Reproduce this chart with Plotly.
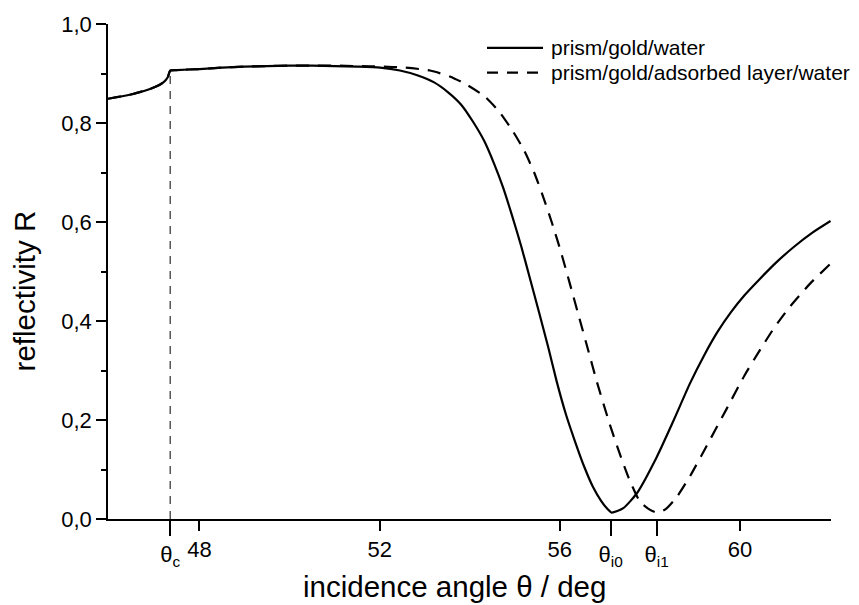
import plotly.graph_objects as go

# ---- data ----
theta_water = [45.97, 46.5, 47.0, 47.2, 47.3, 47.35, 47.5, 48.0, 48.5, 49.0, 49.5, 50.0,
               50.5, 51.0, 51.5, 52.01, 52.45, 52.85, 53.21, 53.52, 53.81, 54.07, 54.32,
               54.54, 54.74, 54.94, 55.14, 55.34, 55.54, 55.74, 55.93, 56.14, 56.34,
               56.54, 56.74, 56.92, 57.05, 57.15, 57.41, 57.71, 58.15, 58.52, 58.89,
               59.2, 59.5, 59.8, 60.1, 60.44, 60.8, 61.2, 61.6, 62.01]
R_water = [0.849, 0.858, 0.872, 0.882, 0.893, 0.906, 0.907, 0.909, 0.912, 0.914, 0.915, 0.916,
           0.916, 0.915, 0.914, 0.912, 0.906, 0.896, 0.882, 0.862, 0.837, 0.803, 0.764,
           0.718, 0.670, 0.613, 0.552, 0.485, 0.417, 0.348, 0.278, 0.210, 0.156,
           0.106, 0.064, 0.036, 0.021, 0.013, 0.022, 0.052, 0.125, 0.198, 0.274,
           0.330, 0.378, 0.418, 0.452, 0.485, 0.518, 0.550, 0.578, 0.602]

theta_layer = [45.97, 46.5, 47.0, 47.2, 47.3, 47.35, 47.5, 48.0, 48.5, 49.0, 49.5, 50.0,
               50.5, 51.0, 51.5, 52.01, 52.56, 53.12, 53.56, 53.96, 54.34, 54.67, 54.96,
               55.21, 55.43, 55.63, 55.83, 56.03, 56.23, 56.43, 56.63, 56.82, 57.11,
               57.33, 57.52, 57.78, 57.96, 58.15, 58.35, 58.6, 58.9, 59.25, 59.7, 60.1,
               60.4, 60.75, 61.1, 61.55, 61.99]
R_layer = [0.849, 0.858, 0.872, 0.882, 0.893, 0.906, 0.907, 0.909, 0.912, 0.914, 0.915, 0.916,
           0.916, 0.916, 0.915, 0.914, 0.912, 0.906, 0.894, 0.876, 0.853, 0.821, 0.783,
           0.744, 0.700, 0.651, 0.597, 0.538, 0.473, 0.407, 0.341, 0.278, 0.191,
           0.132, 0.085, 0.035, 0.021, 0.013, 0.020, 0.045, 0.088, 0.146, 0.222, 0.290,
           0.335, 0.385, 0.428, 0.475, 0.514]

series_names = ["prism/gold/water", "prism/gold/adsorbed layer/water"]

x_tick_vals = [48, 52, 56, 60]
x_tick_text = ["48", "52", "56", "60"]
theta_tick_vals = [47.35, 57.13, 58.15]          # theta_c, theta_i0, theta_i1
theta_tick_text = ["θ<sub>c</sub>", "θ<sub>i0</sub>", "θ<sub>i1</sub>"]
y_tick_vals = [0.0, 0.2, 0.4, 0.6, 0.8, 1.0]
y_tick_text = ["0,0", "0,2", "0,4", "0,6", "0,8", "1,0"]
y_minor_vals = [0.1, 0.3, 0.5, 0.7, 0.9]

x_range = [45.97, 62.02]
y_range = [0.0, 1.0]

FONT = "Liberation Sans, Arial, sans-serif"
SOLID = dict(color="black", width=2.2)
DASHED = dict(color="black", width=2.2, dash="13px,9px")

fig = go.Figure()
fig.add_trace(go.Scatter(x=theta_water, y=R_water, mode="lines", name=series_names[0],
                         showlegend=False,
                         line=dict(**SOLID, shape="spline", smoothing=0.6)))
fig.add_trace(go.Scatter(x=theta_layer, y=R_layer, mode="lines", name=series_names[1],
                         showlegend=False,
                         line=dict(**DASHED, shape="spline", smoothing=0.6)))
# critical angle marker (vertical dashed line from axis up to the curve)
theta_c = theta_tick_vals[0]
R_c = R_water[theta_water.index(theta_c)]
fig.add_trace(go.Scatter(x=[theta_c, theta_c], y=[0, R_c], mode="lines", showlegend=False,
                         xaxis="x2", line=dict(color="black", width=1, dash="8px,7px")))

axis_common = dict(showgrid=False, zeroline=False, ticks="outside", tickcolor="black",
                   tickwidth=1.5, tickfont=dict(family=FONT, size=22, color="black"))

# legend drawn as key lines + labels in paper coordinates
legend_rows_y = [0.9518, 0.9019]
legend_line_x = [0.5242, 0.6017]
legend_text_x = 0.610
legend_styles = [dict(color="black", width=2.2),
                 dict(color="black", width=2.2, dash="11px,9px")]
shapes = []
annotations = []
for name, yy, st in zip(series_names, legend_rows_y, legend_styles):
    shapes.append(dict(type="line", xref="paper", yref="paper",
                       x0=legend_line_x[0], x1=legend_line_x[1], y0=yy, y1=yy, line=st))
    annotations.append(dict(text=name, xref="paper", yref="paper", x=legend_text_x, y=yy,
                            xanchor="left", yanchor="middle", showarrow=False,
                            font=dict(family=FONT, size=21, color="black")))

annotations += [
    dict(text="incidence angle θ / deg", xref="paper", yref="paper",
         x=0.4786, y=-0.137, xanchor="center", yanchor="middle", showarrow=False,
         font=dict(family=FONT, size=29.5, color="black")),
    dict(text="reflectivity R", xref="paper", yref="paper", textangle=-90,
         x=-0.116, y=0.46, xanchor="center", yanchor="middle", showarrow=False,
         font=dict(family=FONT, size=29.5, color="black")),
]

fig.update_layout(
    width=859, height=605,
    margin=dict(l=108, r=28, t=18, b=86),
    paper_bgcolor="white", plot_bgcolor="white",
    font=dict(family=FONT, color="black"),
    showlegend=False,
    xaxis=dict(range=x_range, tickmode="array", tickvals=x_tick_vals, ticktext=x_tick_text,
               ticklen=10, showline=True, linecolor="black", linewidth=1.5, **axis_common),
    xaxis2=dict(range=x_range, overlaying="x", anchor="y", side="bottom", tickmode="array",
                tickvals=theta_tick_vals, ticktext=theta_tick_text, ticklen=16,
                showline=False, **axis_common),
    yaxis=dict(range=y_range, tickmode="array", tickvals=y_tick_vals, ticktext=y_tick_text,
               ticklen=10, showline=True, linecolor="black", linewidth=1.5,
               minor=dict(tickmode="array", tickvals=y_minor_vals, ticks="outside",
                          ticklen=5, tickwidth=1.5, tickcolor="black"),
               **axis_common),
    shapes=shapes,
    annotations=annotations,
)

fig.write_html("out.html")
